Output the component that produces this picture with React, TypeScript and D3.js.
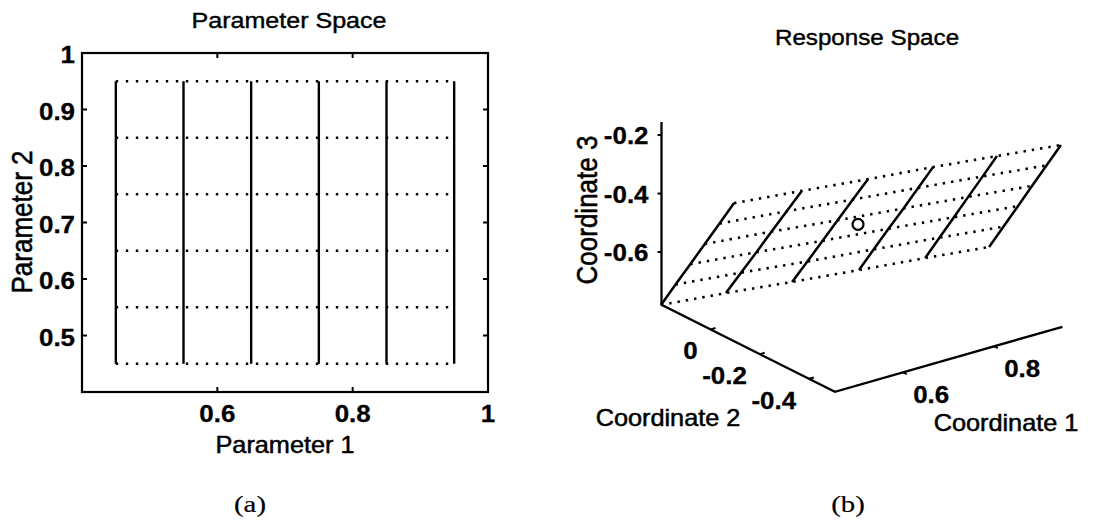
import React from 'react';
import * as d3 from 'd3';

// ---- parameter space ----
const p1Values = [0.45, 0.55, 0.65, 0.75, 0.85, 0.95];
const p2Values = [0.45, 0.55, 0.65, 0.75, 0.85, 0.95];
const p1Ticks = [0.6, 0.8, 1];
const p2Ticks = [0.5, 0.6, 0.7, 0.8, 0.9, 1];

// ---- response space (one row per p1 column, one entry per p2 value) ----
const coord1 = [0.45, 0.55, 0.65, 0.75, 0.85, 0.95];
const coord2 = [
  [0.202, 0.143, 0.083, 0.024, -0.036, -0.095],
  [0.123, 0.061, -0.001, -0.062, -0.124, -0.186],
  [0.039, -0.023, -0.085, -0.146, -0.208, -0.27],
  [-0.048, -0.108, -0.168, -0.229, -0.289, -0.349],
  [-0.132, -0.19, -0.249, -0.307, -0.366, -0.424],
  [-0.207, -0.265, -0.324, -0.382, -0.441, -0.499],
];
const coord3 = [
  [-0.782, -0.687, -0.592, -0.498, -0.403, -0.308],
  [-0.752, -0.656, -0.56, -0.464, -0.368, -0.272],
  [-0.723, -0.627, -0.53, -0.434, -0.337, -0.241],
  [-0.69, -0.594, -0.498, -0.403, -0.307, -0.211],
  [-0.658, -0.564, -0.469, -0.375, -0.28, -0.186],
  [-0.633, -0.539, -0.444, -0.35, -0.255, -0.161],
];
const markerPoint = [0.69, -0.155, -0.462];
const c1Ticks = [0.6, 0.8];
const c2Ticks = [0, -0.2, -0.4];
const c3Ticks = [-0.2, -0.4, -0.6];

const SANS = '"Liberation Sans", Arial, Helvetica, sans-serif';
const SERIF = '"Liberation Serif", "Times New Roman", serif';

type LabelProps = {
  x: number;
  y: number;
  text: string;
  size: number;
  sx?: number;
  anchor?: string;
  weight?: string;
  rotate?: boolean;
  family?: string;
  heavy?: number;
};

// scanned lettering is wider and heavier than the plain font
const Label = ({ x, y, text, size, sx = 1.1, anchor = 'middle', weight = 'normal', rotate = false, family = SANS, heavy = 0.5 }: LabelProps) => (
  <text
    transform={`translate(${x},${y}) scale(${sx},1)${rotate ? ' rotate(-90)' : ''}`}
    textAnchor={anchor}
    fontSize={size}
    fontWeight={weight}
    fontFamily={family}
    fill="#000"
    stroke="#000"
    strokeWidth={heavy}
  >
    {text}
  </text>
);

const line = d3.line<number[]>().x(d => d[0]).y(d => d[1]);

const ParameterPanel = () => {
  const x = d3.scaleLinear().domain([0.4, 1]).range([82, 488]);
  const y = d3.scaleLinear().domain([0.4, 1]).range([392, 53]);
  const tk = 5;

  return (
    <g>
      <rect x={x(0.4)} y={y(1)} width={x(1) - x(0.4)} height={y(0.4) - y(1)} fill="none" stroke="#000" strokeWidth={2.2} />
      {p1Ticks.map(v => (
        <g key={'xt' + v}>
          <line x1={x(v)} x2={x(v)} y1={y(0.4)} y2={y(0.4) - tk} stroke="#000" strokeWidth={2} />
          <line x1={x(v)} x2={x(v)} y1={y(1)} y2={y(1) + tk} stroke="#000" strokeWidth={2} />
          <Label x={x(v)} y={422} text={String(v)} size={24} sx={1.08} weight="bold" heavy={0.3} />
        </g>
      ))}
      {p2Ticks.map(v => (
        <g key={'yt' + v}>
          <line x1={x(0.4)} x2={x(0.4) + tk} y1={y(v)} y2={y(v)} stroke="#000" strokeWidth={2} />
          <line x1={x(1)} x2={x(1) - tk} y1={y(v)} y2={y(v)} stroke="#000" strokeWidth={2} />
          <Label x={75} y={y(v) + 10} text={String(v)} size={24} sx={1.08} weight="bold" anchor="end" heavy={0.3} />
        </g>
      ))}
      {p2Values.map(v => (
        <line
          key={'h' + v}
          x1={x(p1Values[0])}
          x2={x(p1Values[p1Values.length - 1])}
          y1={y(v)}
          y2={y(v)}
          stroke="#000"
          strokeWidth={2.4}
          strokeDasharray="2.4 7.6"
        />
      ))}
      {p1Values.map(v => (
        <line
          key={'v' + v}
          x1={x(v)}
          x2={x(v)}
          y1={y(p2Values[0])}
          y2={y(p2Values[p2Values.length - 1])}
          stroke="#000"
          strokeWidth={2.4}
        />
      ))}
      <Label x={289} y={28} text="Parameter Space" size={22} sx={1.14} heavy={0.4} />
      <Label x={285} y={453} text="Parameter 1" size={23} sx={1.1} />
      <Label x={32} y={222} text="Parameter 2" size={26} sx={1.15} rotate />
    </g>
  );
};

const ResponsePanel = () => {
  const s1 = d3.scaleLinear().domain([0.45, 0.95]).range([0, 1]);
  const s2 = d3.scaleLinear().domain([-0.505, 0.2]).range([0, 1]);
  const s3 = d3.scaleLinear().domain([-0.78, -0.155]).range([0, 1]);
  const base = [834.9, 391.8];
  const e1 = [227.5, -65];
  const e2 = [-173.4, -87.1];
  const e3 = [0, -182.8];
  const project = (a: number, b: number, c: number) => {
    const f1 = s1(a), f2 = s2(b), f3 = s3(c);
    return [
      base[0] + f1 * e1[0] + f2 * e2[0] + f3 * e3[0],
      base[1] + f1 * e1[1] + f2 * e2[1] + f3 * e3[1],
    ];
  };
  const [c1lo, c1hi] = s1.domain();
  const [c2lo, c2hi] = s2.domain();
  const [c3lo, c3hi] = s3.domain();

  const origin = project(c1lo, c2hi, c3lo);
  const corner = project(c1lo, c2lo, c3lo);
  const zTop = project(c1lo, c2hi, c3hi);
  const c1End = project(c1hi, c2lo, c3lo);

  const pts = coord1.map((a, i) => coord2[i].map((b, j) => project(a, b, coord3[i][j])));
  const rows = p2Values.map((_, j) => pts.map(col => col[j]));
  const mk = project(markerPoint[0], markerPoint[1], markerPoint[2]);

  const u1 = [e1[0] / Math.hypot(e1[0], e1[1]), e1[1] / Math.hypot(e1[0], e1[1])];
  const u2 = [e2[0] / Math.hypot(e2[0], e2[1]), e2[1] / Math.hypot(e2[0], e2[1])];

  return (
    <g>
      <path d={line([zTop, origin, corner, c1End]) || ''} fill="none" stroke="#000" strokeWidth={2.3} strokeLinejoin="miter" />
      {c3Ticks.map(v => {
        const p = project(c1lo, c2hi, v);
        return (
          <g key={'z' + v}>
            <line x1={p[0]} x2={p[0] - 4} y1={p[1]} y2={p[1]} stroke="#000" strokeWidth={2} />
            <Label x={p[0] - 13} y={p[1] + 9} text={String(v)} size={24} sx={1.08} weight="bold" anchor="end" heavy={0.3} />
          </g>
        );
      })}
      {c2Ticks.map(v => {
        const p = project(c1lo, v, c3lo);
        return (
          <g key={'y' + v}>
            <line x1={p[0]} x2={p[0] + u1[0] * 5} y1={p[1]} y2={p[1] + u1[1] * 5} stroke="#000" strokeWidth={2} />
            <Label x={p[0] - 13} y={p[1] + 30} text={String(v)} size={24} sx={1.08} weight="bold" anchor="end" heavy={0.3} />
          </g>
        );
      })}
      {c1Ticks.map(v => {
        const p = project(v, c2lo, c3lo);
        return (
          <g key={'x' + v}>
            <line x1={p[0]} x2={p[0] - u2[0] * 4} y1={p[1]} y2={p[1] - u2[1] * 4} stroke="#000" strokeWidth={2} />
            <Label x={p[0] + 10} y={p[1] + 31} text={String(v)} size={24} sx={1.08} weight="bold" anchor="start" heavy={0.3} />
          </g>
        );
      })}
      {rows.map((r, j) => (
        <path key={'r' + j} d={line(r) || ''} fill="none" stroke="#000" strokeWidth={2.6} strokeDasharray="2.4 6" />
      ))}
      {pts.map((col, i) => (
        <path key={'c' + i} d={line(col) || ''} fill="none" stroke="#000" strokeWidth={2.5} />
      ))}
      <circle cx={mk[0]} cy={mk[1]} r={5.5} fill="none" stroke="#000" strokeWidth={2.2} />
      <Label x={867} y={45} text="Response Space" size={22} sx={1.1} heavy={0.4} />
      <Label x={668} y={426} text="Coordinate 2" size={23} sx={1.1} />
      <Label x={1006} y={431} text="Coordinate 1" size={23} sx={1.1} />
      <Label x={597} y={210} text="Coordinate 3" size={26} sx={1.15} rotate />
    </g>
  );
};

export default function App() {
  return (
    <svg
      width={1093}
      height={531}
      viewBox="0 0 1093 531"
      style={{ position: 'absolute', left: 0, top: 0, background: '#fff' }}
    >
      <rect width={1093} height={531} fill="#fff" />
      <ParameterPanel />
      <ResponsePanel />
      <Label x={250} y={512} text="(a)" size={24} sx={1.2} family={SERIF} heavy={0.2} />
      <Label x={848} y={512} text="(b)" size={24} sx={1.2} family={SERIF} heavy={0.2} />
    </svg>
  );
}
